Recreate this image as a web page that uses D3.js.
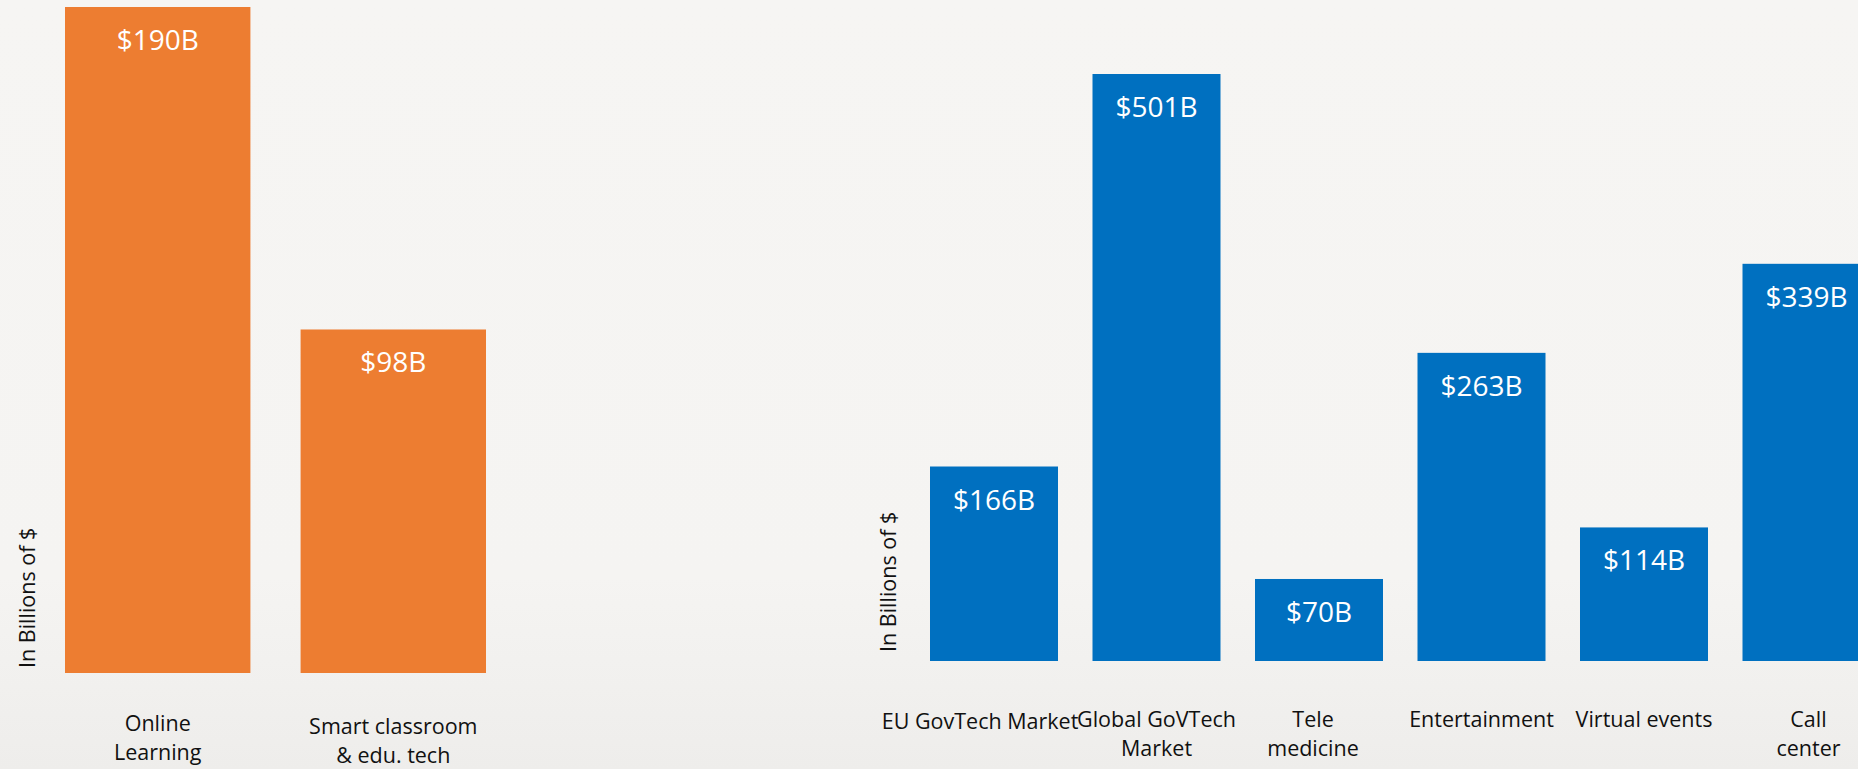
<!DOCTYPE html>
<html>
<head>
<meta charset="utf-8">
<script src="https://cdn.jsdelivr.net/npm/d3@7"></script>
<style>
  html, body { margin: 0; padding: 0; background: #f5f4f2; }
  svg { display: block; }
  text { font-family: "Open Sans", "Noto Sans", sans-serif; }
</style>
</head>
<body>
<svg id="chart" width="1858" height="769"></svg>
<script>
// ---- Data ----
const leftCategories = ["Online\nLearning", "Smart classroom\n& edu. tech"];
const leftValues = [190, 98];
const rightCategories = ["EU GovTech Market", "Global GoVTech\nMarket", "Tele\nmedicine", "Entertainment", "Virtual events", "Call\ncenter"];
const rightValues = [166, 501, 70, 263, 114, 339];
const axisTitle = "In Billions of $";
const valuePrefix = "$";
const valueSuffix = "B";

// ---- Setup ----
const W = 1858, H = 769;
const svg = d3.select("#chart");

const defs = svg.append("defs");
const grad = defs.append("linearGradient").attr("id", "bg").attr("x1", 0).attr("y1", 0).attr("x2", 0).attr("y2", 1);
grad.append("stop").attr("offset", "0%").attr("stop-color", "#f6f5f3");
grad.append("stop").attr("offset", "75%").attr("stop-color", "#f5f4f2");
grad.append("stop").attr("offset", "100%").attr("stop-color", "#eeedeb");
svg.append("rect").attr("width", W).attr("height", H).attr("fill", "url(#bg)");

function panel(cfg) {
  const g = svg.append("g");
  const data = cfg.categories.map((c, i) => ({ c, v: cfg.values[i] }));
  const x = d3.scaleBand().domain(cfg.categories).range(cfg.xRange).paddingInner(cfg.padding).paddingOuter(0);
  const y = d3.scaleLinear().domain([0, d3.max(cfg.values)]).range([cfg.baseY, cfg.topY]);

  g.selectAll("rect.bar").data(data).join("rect")
    .attr("class", "bar")
    .attr("x", d => x(d.c))
    .attr("y", d => y(d.v))
    .attr("width", x.bandwidth())
    .attr("height", d => y(0) - y(d.v))
    .attr("fill", cfg.color);

  g.selectAll("text.val").data(data).join("text")
    .attr("class", "val")
    .attr("x", d => x(d.c) + x.bandwidth() / 2)
    .attr("y", d => y(d.v) + 43)
    .attr("text-anchor", "middle")
    .attr("fill", "#ffffff")
    .attr("font-size", 28)
    .text(d => valuePrefix + d.v + valueSuffix);

  // category labels via a bottom axis (no line/ticks)
  const axis = g.append("g").attr("transform", `translate(0,${cfg.labelY})`)
    .call(d3.axisBottom(x).tickSize(0).tickFormat(""));
  axis.select(".domain").remove();
  axis.selectAll(".tick").each(function(d, i) {
    const t = d3.select(this).append("text")
      .attr("text-anchor", "middle")
      .attr("fill", "#111")
      .attr("font-size", 21.5)
      .attr("x", cfg.labelDx[i] || 0)
      .attr("y", cfg.labelShift[i] || 0);
    d.split("\n").forEach((line, j) => {
      t.append("tspan").attr("x", cfg.labelDx[i] || 0).attr("dy", j === 0 ? 0 : 29).text(line);
    });
  });

  g.append("text")
    .attr("transform", `translate(${cfg.titleX},${cfg.titleY}) rotate(-90)`)
    .attr("text-anchor", "start")
    .attr("fill", "#111")
    .attr("font-size", 21.5)
    .text(axisTitle);
}

panel({
  categories: leftCategories, values: leftValues, color: "#ED7D31",
  xRange: [65, 486], padding: 0.213, baseY: 673, topY: 7,
  labelY: 731, labelShift: [0, 3], labelDx: [0, 0], titleX: 35, titleY: 668
});

panel({
  categories: rightCategories, values: rightValues, color: "#0070C0",
  xRange: [930, 1870.5], padding: 0.2123, baseY: 661, topY: 74,
  labelY: 727, labelShift: [2, 0, 0, 0, 0, 0], labelDx: [-14, 0, -6, 0, 0, 2], titleX: 896, titleY: 652
});
</script>
</body>
</html>
